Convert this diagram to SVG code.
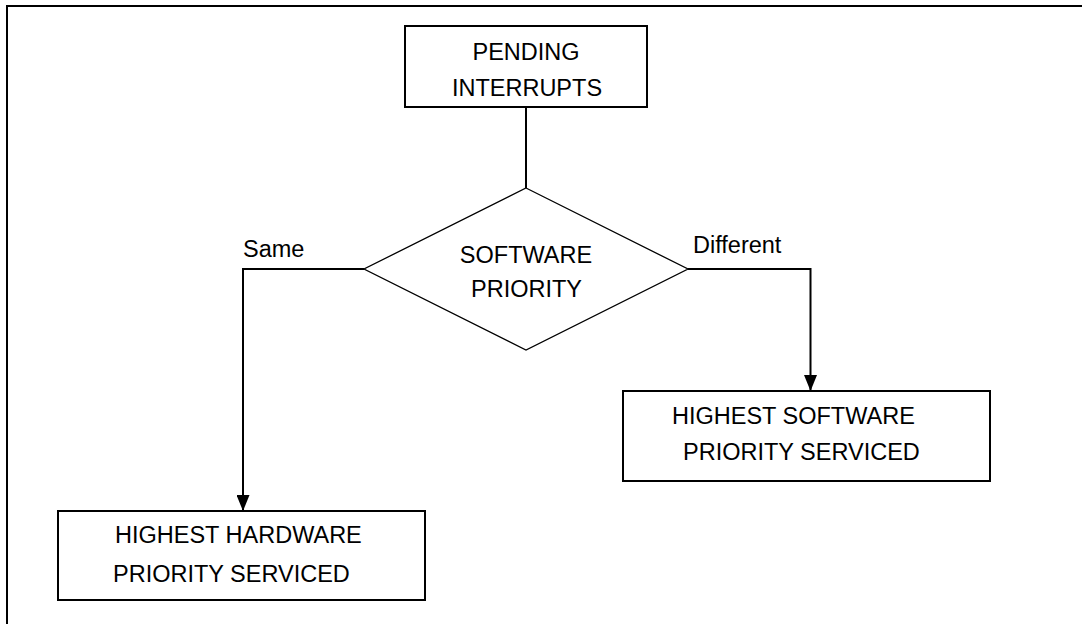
<svg xmlns="http://www.w3.org/2000/svg" width="1082" height="624" viewBox="0 0 1082 624">
<defs>
<style>
.box{fill:#fff;stroke:#000;stroke-width:2}
.dia{fill:#fff;stroke:#000;stroke-width:1.3}
.ln{fill:none;stroke:#000;stroke-width:2}
.t{font-family:"Liberation Sans",Arial,sans-serif;font-size:23.5px;fill:#000}
</style>
<marker id="arr" viewBox="0 0 16 13" refX="16" refY="6.5" markerWidth="16" markerHeight="13" markerUnits="userSpaceOnUse" orient="auto">
<path d="M0,0 L16,6.5 L0,13 Z" fill="#000"/>
</marker>
</defs>
<rect width="1082" height="624" fill="#fff"/>
<g id="frame">
<line class="ln" x1="6" y1="6" x2="1082" y2="6"/>
<line class="ln" x1="7" y1="6" x2="7" y2="624"/>
</g>
<g id="connectors">
<line class="ln" x1="526" y1="107" x2="526" y2="188"/>
<polyline class="ln" points="364,269 243,269 243,511" marker-end="url(#arr)"/>
<polyline class="ln" points="688,269 810.5,269 810.5,391" marker-end="url(#arr)"/>
</g>
<g id="pending">
<rect class="box" x="405" y="26" width="242" height="81"/>
<text class="t" x="526" y="60" text-anchor="middle">PENDING</text>
<text class="t" x="527" y="96" text-anchor="middle">INTERRUPTS</text>
</g>
<g id="decision">
<polygon class="dia" points="526,188 688,269 526,350 364,269"/>
<text class="t" x="526" y="263" text-anchor="middle">SOFTWARE</text>
<text class="t" x="526.5" y="297" text-anchor="middle">PRIORITY</text>
</g>
<g id="label-same">
<text class="t" x="243" y="257">Same</text>
</g>
<g id="label-different">
<text class="t" x="693" y="253">Different</text>
</g>
<g id="hw">
<rect class="box" x="58" y="511" width="367" height="89"/>
<text class="t" x="115" y="543">HIGHEST HARDWARE</text>
<text class="t" x="113" y="582">PRIORITY SERVICED</text>
</g>
<g id="sw">
<rect class="box" x="623" y="391" width="367" height="90"/>
<text class="t" x="672" y="424">HIGHEST SOFTWARE</text>
<text class="t" x="683" y="460">PRIORITY SERVICED</text>
</g>
</svg>
